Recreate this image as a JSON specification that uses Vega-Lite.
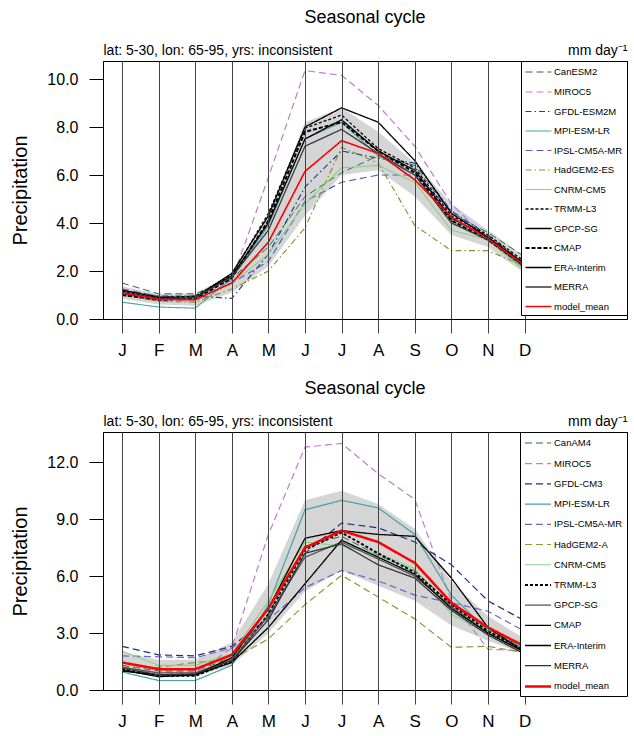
{
"$schema":"https://vega.github.io/schema/vega-lite/v6.json",
"padding":{"left":10,"top":8,"right":0,"bottom":0},
"spacing":20,
"config":{
"font":"Liberation Sans",
"view":{"stroke":"black","strokeWidth":1},
"axis":{"labelFont":"Liberation Sans","titleFont":"Liberation Sans","titleFontWeight":"normal","labelColor":"black","titleColor":"black","domainColor":"black","tickColor":"black"},
"title":{"font":"Liberation Sans","fontWeight":"normal","fontSize":18,"color":"black"},
"legend":{"labelFont":"Liberation Sans","labelColor":"black"}
},
"resolve":{"scale":{"stroke":"independent","strokeDash":"independent","strokeWidth":"independent"},"legend":{"stroke":"independent","strokeDash":"independent","strokeWidth":"independent"}},
"datasets":{
"top":[
{"s":"CanESM2","m":1,"v":1.5},{"s":"CanESM2","m":2,"v":1.05},{"s":"CanESM2","m":3,"v":1.05},{"s":"CanESM2","m":4,"v":1.7},{"s":"CanESM2","m":5,"v":3.0},{"s":"CanESM2","m":6,"v":5.1},{"s":"CanESM2","m":7,"v":6.1},{"s":"CanESM2","m":8,"v":6.8},{"s":"CanESM2","m":9,"v":6.4},{"s":"CanESM2","m":10,"v":4.4},{"s":"CanESM2","m":11,"v":3.6},{"s":"CanESM2","m":12,"v":2.6},
{"s":"MIROC5","m":1,"v":1.0},{"s":"MIROC5","m":2,"v":0.75},{"s":"MIROC5","m":3,"v":0.75},{"s":"MIROC5","m":4,"v":1.6},{"s":"MIROC5","m":5,"v":5.9},{"s":"MIROC5","m":6,"v":10.35},{"s":"MIROC5","m":7,"v":10.15},{"s":"MIROC5","m":8,"v":8.9},{"s":"MIROC5","m":9,"v":7.2},{"s":"MIROC5","m":10,"v":4.8},{"s":"MIROC5","m":11,"v":3.3},{"s":"MIROC5","m":12,"v":2.1},
{"s":"GFDL-ESM2M","m":1,"v":1.2},{"s":"GFDL-ESM2M","m":2,"v":0.95},{"s":"GFDL-ESM2M","m":3,"v":0.95},{"s":"GFDL-ESM2M","m":4,"v":0.86},{"s":"GFDL-ESM2M","m":5,"v":2.7},{"s":"GFDL-ESM2M","m":6,"v":5.5},{"s":"GFDL-ESM2M","m":7,"v":7.0},{"s":"GFDL-ESM2M","m":8,"v":6.7},{"s":"GFDL-ESM2M","m":9,"v":6.5},{"s":"GFDL-ESM2M","m":10,"v":4.5},{"s":"GFDL-ESM2M","m":11,"v":3.5},{"s":"GFDL-ESM2M","m":12,"v":2.3},
{"s":"MPI-ESM-LR","m":1,"v":0.7},{"s":"MPI-ESM-LR","m":2,"v":0.5},{"s":"MPI-ESM-LR","m":3,"v":0.45},{"s":"MPI-ESM-LR","m":4,"v":1.7},{"s":"MPI-ESM-LR","m":5,"v":3.9},{"s":"MPI-ESM-LR","m":6,"v":7.5},{"s":"MPI-ESM-LR","m":7,"v":8.2},{"s":"MPI-ESM-LR","m":8,"v":6.8},{"s":"MPI-ESM-LR","m":9,"v":6.0},{"s":"MPI-ESM-LR","m":10,"v":4.1},{"s":"MPI-ESM-LR","m":11,"v":3.3},{"s":"MPI-ESM-LR","m":12,"v":2.1},
{"s":"IPSL-CM5A-MR","m":1,"v":1.25},{"s":"IPSL-CM5A-MR","m":2,"v":0.95},{"s":"IPSL-CM5A-MR","m":3,"v":0.9},{"s":"IPSL-CM5A-MR","m":4,"v":1.5},{"s":"IPSL-CM5A-MR","m":5,"v":2.4},{"s":"IPSL-CM5A-MR","m":6,"v":4.9},{"s":"IPSL-CM5A-MR","m":7,"v":5.7},{"s":"IPSL-CM5A-MR","m":8,"v":6.0},{"s":"IPSL-CM5A-MR","m":9,"v":6.0},{"s":"IPSL-CM5A-MR","m":10,"v":4.5},{"s":"IPSL-CM5A-MR","m":11,"v":3.4},{"s":"IPSL-CM5A-MR","m":12,"v":2.2},
{"s":"HadGEM2-ES","m":1,"v":1.0},{"s":"HadGEM2-ES","m":2,"v":0.75},{"s":"HadGEM2-ES","m":3,"v":0.7},{"s":"HadGEM2-ES","m":4,"v":1.25},{"s":"HadGEM2-ES","m":5,"v":2.0},{"s":"HadGEM2-ES","m":6,"v":3.8},{"s":"HadGEM2-ES","m":7,"v":7.15},{"s":"HadGEM2-ES","m":8,"v":6.5},{"s":"HadGEM2-ES","m":9,"v":3.9},{"s":"HadGEM2-ES","m":10,"v":2.85},{"s":"HadGEM2-ES","m":11,"v":2.85},{"s":"HadGEM2-ES","m":12,"v":2.2},
{"s":"CNRM-CM5","m":1,"v":1.1},{"s":"CNRM-CM5","m":2,"v":0.85},{"s":"CNRM-CM5","m":3,"v":0.85},{"s":"CNRM-CM5","m":4,"v":1.5},{"s":"CNRM-CM5","m":5,"v":2.7},{"s":"CNRM-CM5","m":6,"v":4.8},{"s":"CNRM-CM5","m":7,"v":6.3},{"s":"CNRM-CM5","m":8,"v":6.4},{"s":"CNRM-CM5","m":9,"v":5.7},{"s":"CNRM-CM5","m":10,"v":3.7},{"s":"CNRM-CM5","m":11,"v":3.3},{"s":"CNRM-CM5","m":12,"v":2.0},
{"s":"TRMM-L3","m":1,"v":1.15},{"s":"TRMM-L3","m":2,"v":0.9},{"s":"TRMM-L3","m":3,"v":0.95},{"s":"TRMM-L3","m":4,"v":1.85},{"s":"TRMM-L3","m":5,"v":4.4},{"s":"TRMM-L3","m":6,"v":7.95},{"s":"TRMM-L3","m":7,"v":8.5},{"s":"TRMM-L3","m":8,"v":7.1},{"s":"TRMM-L3","m":9,"v":6.3},{"s":"TRMM-L3","m":10,"v":4.3},{"s":"TRMM-L3","m":11,"v":3.5},{"s":"TRMM-L3","m":12,"v":2.4},
{"s":"GPCP-SG","m":1,"v":1.2},{"s":"GPCP-SG","m":2,"v":0.9},{"s":"GPCP-SG","m":3,"v":0.9},{"s":"GPCP-SG","m":4,"v":1.8},{"s":"GPCP-SG","m":5,"v":4.0},{"s":"GPCP-SG","m":6,"v":7.5},{"s":"GPCP-SG","m":7,"v":8.3},{"s":"GPCP-SG","m":8,"v":7.0},{"s":"GPCP-SG","m":9,"v":6.2},{"s":"GPCP-SG","m":10,"v":4.2},{"s":"GPCP-SG","m":11,"v":3.4},{"s":"GPCP-SG","m":12,"v":2.3},
{"s":"CMAP","m":1,"v":1.0},{"s":"CMAP","m":2,"v":0.8},{"s":"CMAP","m":3,"v":0.85},{"s":"CMAP","m":4,"v":1.7},{"s":"CMAP","m":5,"v":4.1},{"s":"CMAP","m":6,"v":7.8},{"s":"CMAP","m":7,"v":8.2},{"s":"CMAP","m":8,"v":7.0},{"s":"CMAP","m":9,"v":6.1},{"s":"CMAP","m":10,"v":4.1},{"s":"CMAP","m":11,"v":3.3},{"s":"CMAP","m":12,"v":2.2},
{"s":"ERA-Interim","m":1,"v":1.1},{"s":"ERA-Interim","m":2,"v":0.85},{"s":"ERA-Interim","m":3,"v":0.9},{"s":"ERA-Interim","m":4,"v":1.9},{"s":"ERA-Interim","m":5,"v":4.3},{"s":"ERA-Interim","m":6,"v":8.0},{"s":"ERA-Interim","m":7,"v":8.8},{"s":"ERA-Interim","m":8,"v":8.2},{"s":"ERA-Interim","m":9,"v":6.6},{"s":"ERA-Interim","m":10,"v":4.4},{"s":"ERA-Interim","m":11,"v":3.4},{"s":"ERA-Interim","m":12,"v":2.3},
{"s":"MERRA","m":1,"v":1.05},{"s":"MERRA","m":2,"v":0.85},{"s":"MERRA","m":3,"v":0.9},{"s":"MERRA","m":4,"v":1.75},{"s":"MERRA","m":5,"v":3.7},{"s":"MERRA","m":6,"v":7.2},{"s":"MERRA","m":7,"v":7.9},{"s":"MERRA","m":8,"v":6.9},{"s":"MERRA","m":9,"v":6.0},{"s":"MERRA","m":10,"v":4.0},{"s":"MERRA","m":11,"v":3.3},{"s":"MERRA","m":12,"v":2.2},
{"s":"model_mean","m":1,"v":1.1},{"s":"model_mean","m":2,"v":0.82},{"s":"model_mean","m":3,"v":0.8},{"s":"model_mean","m":4,"v":1.5},{"s":"model_mean","m":5,"v":3.2},{"s":"model_mean","m":6,"v":6.15},{"s":"model_mean","m":7,"v":7.43},{"s":"model_mean","m":8,"v":6.9},{"s":"model_mean","m":9,"v":5.8},{"s":"model_mean","m":10,"v":4.25},{"s":"model_mean","m":11,"v":3.35},{"s":"model_mean","m":12,"v":2.25}
],
"topband":[
{"m":1,"lo":0.85,"hi":1.35},{"m":2,"lo":0.6,"hi":1.05},{"m":3,"lo":0.55,"hi":1.05},{"m":4,"lo":1.1,"hi":1.9},{"m":5,"lo":2.2,"hi":4.3},{"m":6,"lo":4.3,"hi":8.2},{"m":7,"lo":6.0,"hi":8.8},{"m":8,"lo":6.2,"hi":7.8},{"m":9,"lo":5.1,"hi":6.5},{"m":10,"lo":3.5,"hi":4.8},{"m":11,"lo":3.0,"hi":3.7},{"m":12,"lo":1.9,"hi":2.6}
],
"bot":[
{"s":"CanAM4","m":1,"v":1.3},{"s":"CanAM4","m":2,"v":1.0},{"s":"CanAM4","m":3,"v":1.0},{"s":"CanAM4","m":4,"v":1.7},{"s":"CanAM4","m":5,"v":4.0},{"s":"CanAM4","m":6,"v":7.6},{"s":"CanAM4","m":7,"v":8.1},{"s":"CanAM4","m":8,"v":7.1},{"s":"CanAM4","m":9,"v":6.3},{"s":"CanAM4","m":10,"v":4.5},{"s":"CanAM4","m":11,"v":3.2},{"s":"CanAM4","m":12,"v":2.2},
{"s":"MIROC5","m":1,"v":1.2},{"s":"MIROC5","m":2,"v":0.9},{"s":"MIROC5","m":3,"v":0.9},{"s":"MIROC5","m":4,"v":2.2},{"s":"MIROC5","m":5,"v":8.2},{"s":"MIROC5","m":6,"v":12.8},{"s":"MIROC5","m":7,"v":13.0},{"s":"MIROC5","m":8,"v":11.4},{"s":"MIROC5","m":9,"v":10.05},{"s":"MIROC5","m":10,"v":4.7},{"s":"MIROC5","m":11,"v":2.15},{"s":"MIROC5","m":12,"v":2.05},
{"s":"GFDL-CM3","m":1,"v":2.3},{"s":"GFDL-CM3","m":2,"v":1.85},{"s":"GFDL-CM3","m":3,"v":1.8},{"s":"GFDL-CM3","m":4,"v":2.3},{"s":"GFDL-CM3","m":5,"v":3.8},{"s":"GFDL-CM3","m":6,"v":7.2},{"s":"GFDL-CM3","m":7,"v":8.8},{"s":"GFDL-CM3","m":8,"v":8.55},{"s":"GFDL-CM3","m":9,"v":7.8},{"s":"GFDL-CM3","m":10,"v":6.6},{"s":"GFDL-CM3","m":11,"v":4.7},{"s":"GFDL-CM3","m":12,"v":3.65},
{"s":"MPI-ESM-LR","m":1,"v":0.95},{"s":"MPI-ESM-LR","m":2,"v":0.5},{"s":"MPI-ESM-LR","m":3,"v":0.5},{"s":"MPI-ESM-LR","m":4,"v":1.3},{"s":"MPI-ESM-LR","m":5,"v":4.5},{"s":"MPI-ESM-LR","m":6,"v":9.5},{"s":"MPI-ESM-LR","m":7,"v":10.0},{"s":"MPI-ESM-LR","m":8,"v":9.6},{"s":"MPI-ESM-LR","m":9,"v":8.2},{"s":"MPI-ESM-LR","m":10,"v":5.0},{"s":"MPI-ESM-LR","m":11,"v":3.1},{"s":"MPI-ESM-LR","m":12,"v":2.15},
{"s":"IPSL-CM5A-MR","m":1,"v":1.8},{"s":"IPSL-CM5A-MR","m":2,"v":1.75},{"s":"IPSL-CM5A-MR","m":3,"v":1.7},{"s":"IPSL-CM5A-MR","m":4,"v":2.2},{"s":"IPSL-CM5A-MR","m":5,"v":3.7},{"s":"IPSL-CM5A-MR","m":6,"v":5.4},{"s":"IPSL-CM5A-MR","m":7,"v":6.3},{"s":"IPSL-CM5A-MR","m":8,"v":5.75},{"s":"IPSL-CM5A-MR","m":9,"v":5.0},{"s":"IPSL-CM5A-MR","m":10,"v":4.6},{"s":"IPSL-CM5A-MR","m":11,"v":4.15},{"s":"IPSL-CM5A-MR","m":12,"v":3.1},
{"s":"HadGEM2-A","m":1,"v":1.2},{"s":"HadGEM2-A","m":2,"v":1.2},{"s":"HadGEM2-A","m":3,"v":1.45},{"s":"HadGEM2-A","m":4,"v":1.6},{"s":"HadGEM2-A","m":5,"v":2.7},{"s":"HadGEM2-A","m":6,"v":4.5},{"s":"HadGEM2-A","m":7,"v":6.05},{"s":"HadGEM2-A","m":8,"v":4.9},{"s":"HadGEM2-A","m":9,"v":3.75},{"s":"HadGEM2-A","m":10,"v":2.25},{"s":"HadGEM2-A","m":11,"v":2.3},{"s":"HadGEM2-A","m":12,"v":1.97},
{"s":"CNRM-CM5","m":1,"v":2.05},{"s":"CNRM-CM5","m":2,"v":1.3},{"s":"CNRM-CM5","m":3,"v":1.3},{"s":"CNRM-CM5","m":4,"v":1.9},{"s":"CNRM-CM5","m":5,"v":4.7},{"s":"CNRM-CM5","m":6,"v":7.8},{"s":"CNRM-CM5","m":7,"v":7.6},{"s":"CNRM-CM5","m":8,"v":7.2},{"s":"CNRM-CM5","m":9,"v":6.4},{"s":"CNRM-CM5","m":10,"v":4.0},{"s":"CNRM-CM5","m":11,"v":2.95},{"s":"CNRM-CM5","m":12,"v":2.5},
{"s":"TRMM-L3","m":1,"v":1.1},{"s":"TRMM-L3","m":2,"v":0.75},{"s":"TRMM-L3","m":3,"v":0.75},{"s":"TRMM-L3","m":4,"v":1.5},{"s":"TRMM-L3","m":5,"v":4.0},{"s":"TRMM-L3","m":6,"v":7.4},{"s":"TRMM-L3","m":7,"v":8.3},{"s":"TRMM-L3","m":8,"v":7.2},{"s":"TRMM-L3","m":9,"v":6.2},{"s":"TRMM-L3","m":10,"v":4.5},{"s":"TRMM-L3","m":11,"v":3.1},{"s":"TRMM-L3","m":12,"v":2.1},
{"s":"GPCP-SG","m":1,"v":1.2},{"s":"GPCP-SG","m":2,"v":0.9},{"s":"GPCP-SG","m":3,"v":0.9},{"s":"GPCP-SG","m":4,"v":1.6},{"s":"GPCP-SG","m":5,"v":3.9},{"s":"GPCP-SG","m":6,"v":7.0},{"s":"GPCP-SG","m":7,"v":7.8},{"s":"GPCP-SG","m":8,"v":6.9},{"s":"GPCP-SG","m":9,"v":6.0},{"s":"GPCP-SG","m":10,"v":4.4},{"s":"GPCP-SG","m":11,"v":3.0},{"s":"GPCP-SG","m":12,"v":2.0},
{"s":"CMAP","m":1,"v":1.0},{"s":"CMAP","m":2,"v":0.8},{"s":"CMAP","m":3,"v":0.8},{"s":"CMAP","m":4,"v":1.45},{"s":"CMAP","m":5,"v":3.3},{"s":"CMAP","m":6,"v":5.6},{"s":"CMAP","m":7,"v":7.9},{"s":"CMAP","m":8,"v":7.0},{"s":"CMAP","m":9,"v":6.1},{"s":"CMAP","m":10,"v":4.3},{"s":"CMAP","m":11,"v":3.0},{"s":"CMAP","m":12,"v":2.0},
{"s":"ERA-Interim","m":1,"v":1.05},{"s":"ERA-Interim","m":2,"v":0.7},{"s":"ERA-Interim","m":3,"v":0.8},{"s":"ERA-Interim","m":4,"v":1.7},{"s":"ERA-Interim","m":5,"v":4.3},{"s":"ERA-Interim","m":6,"v":8.0},{"s":"ERA-Interim","m":7,"v":8.4},{"s":"ERA-Interim","m":8,"v":8.2},{"s":"ERA-Interim","m":9,"v":8.1},{"s":"ERA-Interim","m":10,"v":5.9},{"s":"ERA-Interim","m":11,"v":3.3},{"s":"ERA-Interim","m":12,"v":2.0},
{"s":"MERRA","m":1,"v":1.15},{"s":"MERRA","m":2,"v":0.8},{"s":"MERRA","m":3,"v":0.85},{"s":"MERRA","m":4,"v":1.55},{"s":"MERRA","m":5,"v":3.7},{"s":"MERRA","m":6,"v":7.2},{"s":"MERRA","m":7,"v":7.7},{"s":"MERRA","m":8,"v":6.6},{"s":"MERRA","m":9,"v":5.9},{"s":"MERRA","m":10,"v":4.2},{"s":"MERRA","m":11,"v":2.9},{"s":"MERRA","m":12,"v":1.9},
{"s":"model_mean","m":1,"v":1.45},{"s":"model_mean","m":2,"v":1.1},{"s":"model_mean","m":3,"v":1.1},{"s":"model_mean","m":4,"v":1.85},{"s":"model_mean","m":5,"v":4.3},{"s":"model_mean","m":6,"v":7.5},{"s":"model_mean","m":7,"v":8.4},{"s":"model_mean","m":8,"v":7.8},{"s":"model_mean","m":9,"v":6.7},{"s":"model_mean","m":10,"v":4.6},{"s":"model_mean","m":11,"v":3.3},{"s":"model_mean","m":12,"v":2.3}
],
"botband":[
{"m":1,"lo":1.0,"hi":2.0},{"m":2,"lo":0.7,"hi":1.6},{"m":3,"lo":0.7,"hi":1.6},{"m":4,"lo":1.3,"hi":2.5},{"m":5,"lo":3.0,"hi":5.6},{"m":6,"lo":5.2,"hi":10.0},{"m":7,"lo":6.3,"hi":10.5},{"m":8,"lo":5.5,"hi":9.8},{"m":9,"lo":4.7,"hi":8.5},{"m":10,"lo":3.4,"hi":5.7},{"m":11,"lo":2.6,"hi":3.9},{"m":12,"lo":1.9,"hi":2.7}
]
},
"vconcat":[
{
"width":524,"height":258,
"title":{"text":"Seasonal cycle","anchor":"middle","frame":"group","offset":16},
"resolve":{"axis":{"x":"independent","y":"independent"}},
"layer":[
{"data":{"name":"topband"},"mark":{"type":"area","color":"#d5d5d5","opacity":1},
"encoding":{
"x":{"field":"m","type":"quantitative","scale":{"domain":[0.48,14.8],"nice":false,"zero":false},"axis":{"orient":"top","title":"lat: 5-30, lon: 65-95, yrs: inconsistent","titleAnchor":"start","titleAlign":"left","titleFontSize":14,"titlePadding":4,"labels":false,"ticks":false,"domain":false,"grid":false}},
"y":{"field":"lo","type":"quantitative","scale":{"domain":[0,10.75],"nice":false},"axis":{"orient":"right","title":"mm day⁻¹","titleAngle":0,"titleAlign":"right","titleBaseline":"bottom","titleX":0,"titleY":-4,"titleFontSize":14,"labels":false,"ticks":false,"domain":false,"grid":false}},
"y2":{"field":"hi"}
}},
{"data":{"name":"top"},"mark":{"type":"line"},
"encoding":{
"x":{"field":"m","type":"quantitative","axis":{"values":[1,2,3,4,5,6,7,8,9,10,11,12],"labelExpr":"['J','F','M','A','M','J','J','A','S','O','N','D'][datum.value-1]","grid":true,"gridColor":"#444","gridOpacity":1,"tickSize":14,"tickColor":"#444","labelFontSize":17,"labelPadding":9,"title":null,"zindex":1}},
"y":{"field":"v","type":"quantitative","axis":{"values":[0,2,4,6,8,10],"format":".1f","tickSize":14,"labelPadding":11,"labelFontSize":16,"title":"Precipitation","titleFontSize":20,"titlePadding":16,"grid":false}},
"stroke":{"field":"s","type":"nominal","scale":{"domain":["CanESM2","MIROC5","GFDL-ESM2M","MPI-ESM-LR","IPSL-CM5A-MR","HadGEM2-ES","CNRM-CM5","TRMM-L3","GPCP-SG","CMAP","ERA-Interim","MERRA","model_mean"],"range":["#2f6b3c","#c27bd0","#233f94","#45a3a3","#5a5ac4","#8b9428","#86d386","#000000","#000000","#000000","#000000","#3a3a3a","#ff0000"]},
"legend":{"title":null,"orient":"top-right","offset":0,"padding":4,"fillColor":"white","strokeColor":"black","labelFontSize":9.5,"symbolType":"M-2,0H2","symbolSize":169,"rowPadding":7.5,"labelOffset":8,"symbolOffset":6,"zindex":2}},
"strokeDash":{"field":"s","type":"nominal","scale":{"domain":["CanESM2","MIROC5","GFDL-ESM2M","MPI-ESM-LR","IPSL-CM5A-MR","HadGEM2-ES","CNRM-CM5","TRMM-L3","GPCP-SG","CMAP","ERA-Interim","MERRA","model_mean"],"range":[[7,4],[7,4],[6,3,1.5,3],[1,0],[7,4],[6,3,1.5,3],[1,0],[3,2],[1,0],[4,2],[1,0],[1,0],[1,0]]},
"legend":{"title":null,"orient":"top-right","offset":0,"padding":4,"fillColor":"white","strokeColor":"black","labelFontSize":9.5,"symbolType":"M-2,0H2","symbolSize":169,"rowPadding":7.5,"labelOffset":8,"symbolOffset":6,"zindex":2}},
"strokeWidth":{"field":"s","type":"nominal","scale":{"type":"ordinal","domain":["CanESM2","MIROC5","GFDL-ESM2M","MPI-ESM-LR","IPSL-CM5A-MR","HadGEM2-ES","CNRM-CM5","TRMM-L3","GPCP-SG","CMAP","ERA-Interim","MERRA","model_mean"],"range":[1,1.2,1.2,1.1,1.2,1.2,1.1,1.3,1.3,2,1.3,1.3,1.6]},
"legend":{"title":null,"orient":"top-right","offset":0,"padding":4,"fillColor":"white","strokeColor":"black","labelFontSize":9.5,"symbolType":"M-2,0H2","symbolSize":169,"rowPadding":7.5,"labelOffset":8,"symbolOffset":6,"zindex":2}}
}}
]
},
{
"width":524,"height":258,
"title":{"text":"Seasonal cycle","anchor":"middle","frame":"group","offset":16},
"resolve":{"axis":{"x":"independent","y":"independent"}},
"layer":[
{"data":{"name":"botband"},"mark":{"type":"area","color":"#d5d5d5","opacity":1},
"encoding":{
"x":{"field":"m","type":"quantitative","scale":{"domain":[0.48,14.8],"nice":false,"zero":false},"axis":{"orient":"top","title":"lat: 5-30, lon: 65-95, yrs: inconsistent","titleAnchor":"start","titleAlign":"left","titleFontSize":14,"titlePadding":4,"labels":false,"ticks":false,"domain":false,"grid":false}},
"y":{"field":"lo","type":"quantitative","scale":{"domain":[0,13.6],"nice":false},"axis":{"orient":"right","title":"mm day⁻¹","titleAngle":0,"titleAlign":"right","titleBaseline":"bottom","titleX":0,"titleY":-4,"titleFontSize":14,"labels":false,"ticks":false,"domain":false,"grid":false}},
"y2":{"field":"hi"}
}},
{"data":{"name":"bot"},"mark":{"type":"line"},
"encoding":{
"x":{"field":"m","type":"quantitative","axis":{"values":[1,2,3,4,5,6,7,8,9,10,11,12],"labelExpr":"['J','F','M','A','M','J','J','A','S','O','N','D'][datum.value-1]","grid":true,"gridColor":"#444","gridOpacity":1,"tickSize":14,"tickColor":"#444","labelFontSize":17,"labelPadding":9,"title":null,"zindex":1}},
"y":{"field":"v","type":"quantitative","axis":{"values":[0,3,6,9,12],"format":".1f","tickSize":14,"labelPadding":11,"labelFontSize":16,"title":"Precipitation","titleFontSize":20,"titlePadding":16,"grid":false}},
"stroke":{"field":"s","type":"nominal","scale":{"domain":["CanAM4","MIROC5","GFDL-CM3","MPI-ESM-LR","IPSL-CM5A-MR","HadGEM2-A","CNRM-CM5","TRMM-L3","GPCP-SG","CMAP","ERA-Interim","MERRA","model_mean"],"range":["#2f6b3c","#c27bd0","#1f2f7f","#45a3a3","#6b66cc","#8b9a30","#86d386","#000000","#555555","#000000","#000000","#333333","#ff0000"]},
"legend":{"title":null,"orient":"top-right","offset":0,"padding":4,"fillColor":"white","strokeColor":"black","labelFontSize":9.5,"symbolType":"M-2,0H2","symbolSize":169,"rowPadding":8.2,"labelOffset":8,"symbolOffset":6,"zindex":2}},
"strokeDash":{"field":"s","type":"nominal","scale":{"domain":["CanAM4","MIROC5","GFDL-CM3","MPI-ESM-LR","IPSL-CM5A-MR","HadGEM2-A","CNRM-CM5","TRMM-L3","GPCP-SG","CMAP","ERA-Interim","MERRA","model_mean"],"range":[[7,4],[7,4],[7,4],[1,0],[7,4],[7,4],[1,0],[3,2],[1,0],[1,0],[1,0],[1,0],[1,0]]},
"legend":{"title":null,"orient":"top-right","offset":0,"padding":4,"fillColor":"white","strokeColor":"black","labelFontSize":9.5,"symbolType":"M-2,0H2","symbolSize":169,"rowPadding":8.2,"labelOffset":8,"symbolOffset":6,"zindex":2}},
"strokeWidth":{"field":"s","type":"nominal","scale":{"type":"ordinal","domain":["CanAM4","MIROC5","GFDL-CM3","MPI-ESM-LR","IPSL-CM5A-MR","HadGEM2-A","CNRM-CM5","TRMM-L3","GPCP-SG","CMAP","ERA-Interim","MERRA","model_mean"],"range":[1,1.2,1.2,1.2,1.2,1.2,1.1,2,1.3,1.3,1.3,1.3,2.5]},
"legend":{"title":null,"orient":"top-right","offset":0,"padding":4,"fillColor":"white","strokeColor":"black","labelFontSize":9.5,"symbolType":"M-2,0H2","symbolSize":169,"rowPadding":8.2,"labelOffset":8,"symbolOffset":6,"zindex":2}}
}}
]
}
]
}
